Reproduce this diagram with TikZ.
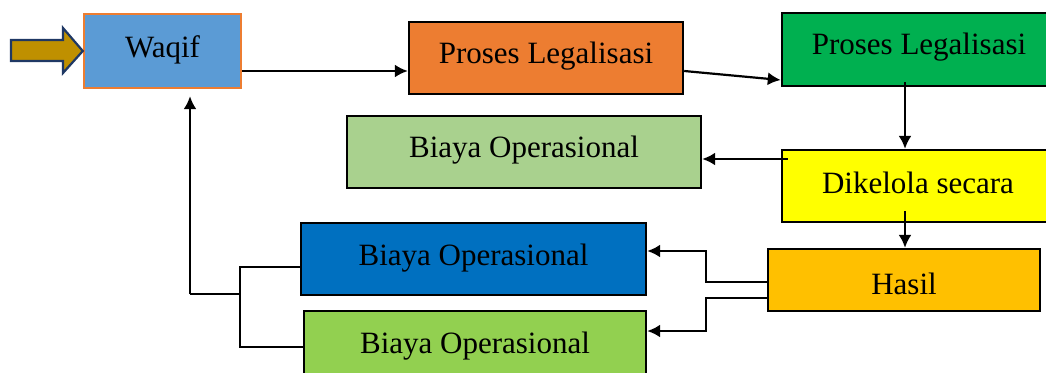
\documentclass[tikz,border=0pt]{standalone}
\usepackage{fontspec}
\setmainfont{Liberation Serif}
\usetikzlibrary{calc,arrows.meta}
\definecolor{cWaqif}{HTML}{5B9BD5}
\definecolor{cOrange}{HTML}{ED7D31}
\definecolor{cGreenD}{HTML}{00B050}
\definecolor{cGreenL}{HTML}{A9D18E}
\definecolor{cYellow}{HTML}{FFFF00}
\definecolor{cGold}{HTML}{FFC000}
\definecolor{cBlue}{HTML}{0070C0}
\definecolor{cGreenM}{HTML}{92D050}
\definecolor{cFat}{HTML}{BF9000}
\definecolor{cNavy}{HTML}{1F3864}
\tikzset{
  lbl/.style={font=\fontsize{31}{34}\selectfont, text=black, inner sep=0pt},
  box/.style={draw=black, line width=2.4pt, rectangle, inner sep=0pt, lbl},
  arr/.style={line width=2.2pt, -{Latex[length=13pt,width=13pt]}},
  thin/.style={line width=1.1pt},
}
\begin{document}
\begin{tikzpicture}[x=1pt,y=-1pt]
\useasboundingbox (0,0) rectangle (1046,372);
\node[box, draw=cOrange, fill=cWaqif, minimum width=157pt, minimum height=74pt, text depth=8pt] (waqif) at (162.5,51) {Waqif};
\node[box, fill=cOrange, minimum width=274pt, minimum height=72pt, text depth=10pt] (p1) at (546,58) {Proses Legalisasi};
\node[box, fill=cGreenD, minimum width=274pt, minimum height=73pt, text depth=12pt] (p2) at (919,49.5) {Proses Legalisasi};
\node[box, fill=cGreenL, minimum width=354pt, minimum height=72pt, text depth=10pt] (bl) at (524,152) {Biaya Operasional};
\node[box, fill=cYellow, minimum width=272pt, minimum height=72pt, text depth=6pt] (dik) at (918,186) {Dikelola secara};
\node[box, fill=cGold, minimum width=272pt, minimum height=62pt, text height=28pt, text depth=0pt] (hasil) at (904,280) {Hasil};
\node[box, fill=cBlue, minimum width=345pt, minimum height=72pt, text depth=9pt] (blue) at (473.5,259) {Biaya Operasional};
\node[box, fill=cGreenM, minimum width=342pt, minimum height=72pt, text depth=8pt] (green) at (475,347) {Biaya Operasional};
% fat arrow
\filldraw[fill=cFat, draw=cNavy, line width=2.2pt, line join=miter]
  (11,40) -- (63,40) -- (63,28) -- (waqif.west) -- (63,73) -- (63,61) -- (11,61) -- cycle;
% connectors
\draw[arr] (waqif.east |- 0,71) -- (p1.west |- 0,71);
\draw[arr] (p1.east |- 0,71) -- (p2.west |- 0,80);
\draw[arr] ($(p2.south -| 905,0)+(0,-5)$) -- (dik.north -| 905,0);
\draw[arr] ($(dik.west |- 0,159)+(7,0)$) -- (bl.east |- 0,159);
\draw[arr] ($(dik.south -| 905,0)+(0,-12)$) -- (hasil.north -| 905,0);
\draw[arr] (hasil.west |- 0,282) -- ++(-61,0) |- (blue.east |- 0,251);
\draw[arr] (hasil.west |- 0,298) -- ++(-61,0) |- (green.east |- 0,331);
\draw[thin] (blue.west |- 0,267) -| (240,347) -- (green.west |- 0,347);
\coordinate (j) at (190,294);
\draw[thin] (j) -- (240,294);
\draw[arr] (j) -- ($(waqif.south -| j)+(0,7)$);
\end{tikzpicture}
\end{document}
